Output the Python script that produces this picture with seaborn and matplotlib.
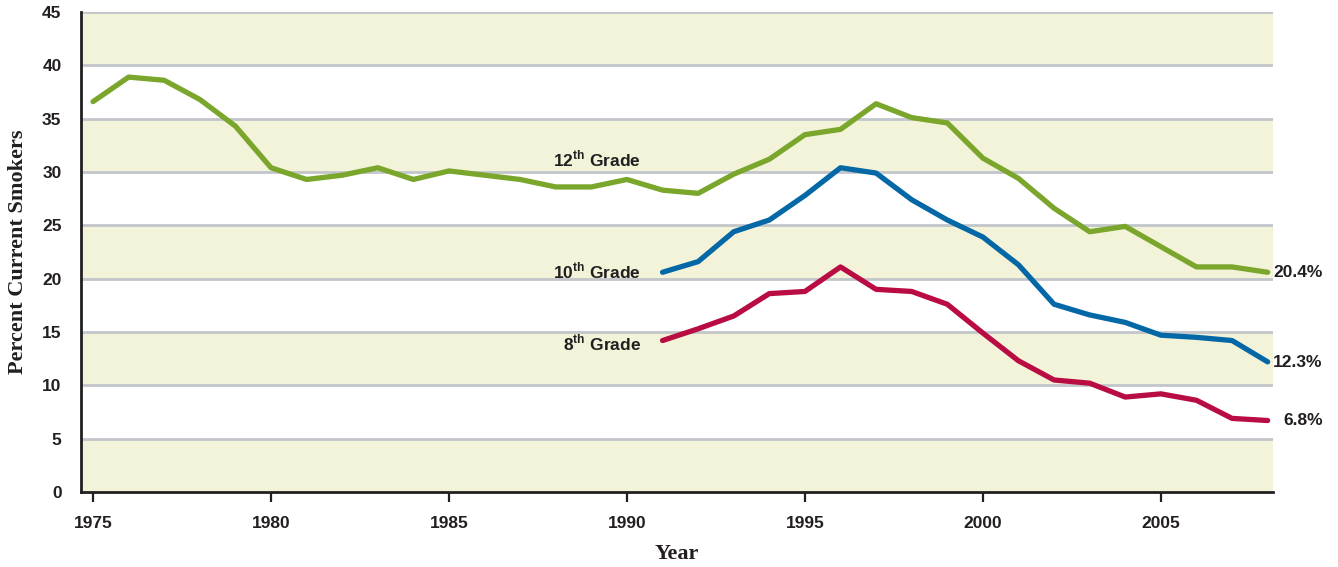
import pandas as pd
import matplotlib.pyplot as plt
import seaborn as sns

years_12 = list(range(1975, 2009))
grade12 = [36.6, 38.9, 38.6, 36.8, 34.3, 30.4, 29.3, 29.7, 30.4, 29.3,
           30.1, 29.7, 29.3, 28.6, 28.6, 29.3, 28.3, 28.0, 29.8, 31.2,
           33.5, 34.0, 36.4, 35.1, 34.6, 31.3, 29.4, 26.6, 24.4, 24.9,
           23.0, 21.1, 21.1, 20.6]
years_young = list(range(1991, 2009))
grade10 = [20.6, 21.6, 24.4, 25.5, 27.8, 30.4, 29.9, 27.4, 25.5, 23.9,
           21.3, 17.6, 16.6, 15.9, 14.7, 14.5, 14.2, 12.2]
grade8 = [14.2, 15.3, 16.5, 18.6, 18.8, 21.1, 19.0, 18.8, 17.6, 14.9,
          12.3, 10.5, 10.2, 8.9, 9.2, 8.6, 6.9, 6.7]
end_labels = ["20.4%", "12.3%", "6.8%"]
x_ticks = [1975, 1980, 1985, 1990, 1995, 2000, 2005]
y_ticks = [0, 5, 10, 15, 20, 25, 30, 35, 40, 45]

df = pd.concat([
    pd.DataFrame({"Year": years_12, "Percent": grade12, "Grade": "12th"}),
    pd.DataFrame({"Year": years_young, "Percent": grade10, "Grade": "10th"}),
    pd.DataFrame({"Year": years_young, "Percent": grade8, "Grade": "8th"}),
])
colors = {"12th": "#7aa62c", "10th": "#0568a6", "8th": "#b80c43"}

sns.set_style("white")
plt.rcParams["font.family"] = ["Liberation Sans Narrow", "Liberation Sans", "DejaVu Sans"]
plt.rcParams["mathtext.fontset"] = "custom"
plt.rcParams["mathtext.rm"] = "Liberation Sans"
plt.rcParams["mathtext.bf"] = "Liberation Sans:bold"

fig = plt.figure(figsize=(13.38, 5.67), dpi=100)
ax = fig.add_axes([0.0605, 0.1323, 0.8909, 0.8465])

# alternating bands + grid
for i in range(0, 45, 10):
    ax.axhspan(i, i + 5, color="#f3f3da", lw=0, zorder=0)
for t in y_ticks[1:]:
    ax.axhline(t, color="#c2c5ca", lw=2, zorder=1)

sns.lineplot(data=df, x="Year", y="Percent", hue="Grade", palette=colors,
             lw=3.8, legend=False, ax=ax, zorder=3)

ax.set_xlim(1974.66, 2008.15)
ax.set_ylim(0, 45)
ax.set_xticks(x_ticks)
ax.set_yticks(y_ticks)
for lab in ax.get_xticklabels() + ax.get_yticklabels():
    lab.set_fontweight("bold")
    lab.set_fontsize(12.5)
    lab.set_color("#231f20")
ax.tick_params(axis="x", length=7, width=1.6, color="#231f20", pad=10, direction="out", bottom=True)
ax.tick_params(axis="y", length=0, pad=14)
for s in ["top", "right"]:
    ax.spines[s].set_visible(False)
for s in ["left", "bottom"]:
    ax.spines[s].set_color("#231f20")
    ax.spines[s].set_linewidth(2)
    ax.spines[s].set_zorder(4)

serif = ["Liberation Serif", "DejaVu Serif"]
ax.set_xlabel("Year", family=serif, fontsize=16, fontweight="bold", color="#231f20", labelpad=10)
ax.set_ylabel("Percent Current Smokers", family=serif, fontsize=16, fontweight="bold",
              color="#231f20", labelpad=10)

lab_kw = dict(ha="right", va="center", fontsize=12.5, color="#231f20", fontweight="bold", zorder=5)
ax.text(1990.4, 31.2, r"12$^{\mathbf{th}}$ Grade", **lab_kw)
ax.text(1990.4, 20.7, r"10$^{\mathbf{th}}$ Grade", **lab_kw)
ax.text(1990.4, 14.0, r"8$^{\mathbf{th}}$ Grade", **lab_kw)

end_kw = dict(ha="right", va="center", fontsize=12.5, color="#231f20", fontweight="bold", clip_on=False)
ax.text(2009.55, grade12[-1], end_labels[0], **end_kw)
ax.text(2009.55, 12.1, end_labels[1], **end_kw)
ax.text(2009.55, grade8[-1], end_labels[2], **end_kw)

fig.savefig("out.png", dpi=100)
